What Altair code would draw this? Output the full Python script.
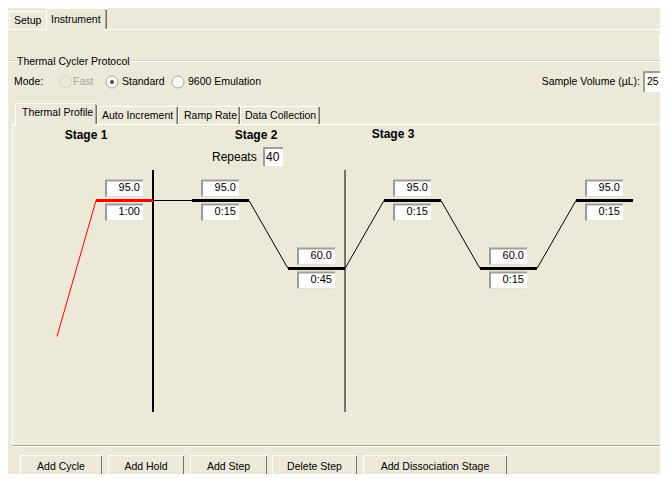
import altair as alt
import pandas as pd

# ---------------- data ----------------
stage_names = ["Stage 1", "Stage 2", "Stage 3"]
step_stage = [1, 2, 2, 3, 3, 3]
step_temp = [95.0, 95.0, 60.0, 95.0, 60.0, 95.0]
step_time = ["1:00", "0:15", "0:45", "0:15", "0:15", "0:15"]
start_temp = 25.0
selected_stage = 1
repeats = "40"
sample_volume = "25"
top_tabs = ["Setup", "Instrument"]
profile_tabs = ["Thermal Profile", "Auto Increment", "Ramp Rate", "Data Collection"]
modes = ["Fast", "Standard", "9600 Emulation"]
buttons = ["Add Cycle", "Add Hold", "Add Step", "Delete Step", "Add Dissociation Stage"]
group_title = "Thermal Cycler Protocol"
mode_label = "Mode:"
volume_label = "Sample Volume (\u00b5L):"
repeats_label = "Repeats"

# --------------- layout ---------------
W, H = 652, 466
OFF = 8
FONT = "Liberation Sans"
FS = 10.5
BG = "#ECE9D8"
SHADE = "#ACA899"
DARK = "#716F64"
SLOT_PX = 96.0
SLOT0_PX = 57 - OFF
DEG_PX = 68 / 35
T95_PX = 200.5 - OFF
RAMP = 39 / 96

xs = alt.Scale(domain=[-SLOT0_PX / SLOT_PX, (W - SLOT0_PX) / SLOT_PX], nice=False, zero=False)
ys = alt.Scale(domain=[95 - (H - T95_PX) / DEG_PX, 95 + T95_PX / DEG_PX], nice=False, zero=False)

n = len(step_temp)
steps = pd.DataFrame({
    "slot": list(range(n)),
    "stage": step_stage,
    "temp": step_temp,
    "prev": [start_temp] + step_temp[:-1],
    "time": step_time,
})
steps["hold"] = steps["slot"] + RAMP
steps["end"] = steps["slot"] + 1

bounds = [i for i in range(1, n) if step_stage[i] != step_stage[i - 1]]
divs = pd.DataFrame({"slot": bounds, "left_stage": [step_stage[i - 1] for i in bounds]})


def XQ(f):
    return alt.X(f, type="quantitative", scale=xs, axis=None)


def YQ(f):
    return alt.Y(f, type="quantitative", scale=ys, axis=None)


sel = f"datum.stage == {selected_stage}"
col = alt.condition(sel, alt.value("#FF0000"), alt.value("#000000"))
base = alt.Chart(steps)

layers = []


# ---------- chrome helpers (pixel layout) ----------
def R(x0, y0, x1, y1, c):
    return dict(x=max(x0 - OFF, 0), x2=min(x1 - OFF, W), y=max(y0 - OFF, 0), y2=min(y1 - OFF, H), c=c)


def rect_layer(rows):
    df = pd.DataFrame(rows)
    df = df[(df.x < df.x2) & (df.y < df.y2)]
    return alt.Chart(df).mark_rect().encode(
        x=alt.X("x:Q", scale=None, axis=None), x2="x2:Q",
        y=alt.Y("y:Q", scale=None, axis=None), y2="y2:Q",
        color=alt.Color("c:N", scale=None, legend=None),
    )


def text_layer(rows, align="left", size=FS, weight="normal", color="#000000"):
    df = pd.DataFrame([dict(x=x - OFF, y=y - OFF, t=t) for x, y, t in rows])
    return alt.Chart(df).mark_text(
        align=align, baseline="middle", font=FONT, fontSize=size, fontWeight=weight, color=color
    ).encode(
        x=alt.X("x:Q", scale=None, axis=None),
        y=alt.Y("y:Q", scale=None, axis=None),
        text="t:N",
    )


def sunken(x0, y0, x1, y1):
    return [R(x0, y0, x1, y1, "#9C9C9C"), R(x0 + 2, y0 + 2, x1, y1, "#FFFFFF")]


def raised(x0, y0, x1, y1):
    return [R(x0, y0, x1, y1, "#FFFFFF"), R(x0 + 1, y0 + 1, x1, y1, DARK),
            R(x0 + 1, y0 + 1, x1 - 1, y1 - 1, BG)]


rows = []
# top tabs
rows += [R(9, 11, 47, 30, "#FFFFFF"), R(10, 12, 47, 30, BG)]
rows += [R(46, 8, 107, 31, "#FFFFFF"), R(47, 9, 105, 31, BG), R(105, 9, 106, 29, SHADE), R(106, 10, 107, 29, DARK)]
rows += [R(0, 29, 46, 30, "#FFFFFF"), R(107, 29, 668, 30, "#FFFFFF")]
# group box
rows += [R(5, 60, 15, 61, "#D0D0BF"), R(130, 60, 668, 61, "#D0D0BF"),
         R(5, 61, 15, 62, "#FFFFFF"), R(130, 61, 668, 62, "#FFFFFF")]
# small top-right button
rows += [R(659, 35, 668, 58, "#FFFFFF"), R(660, 36, 668, 58, DARK), R(660, 36, 668, 57, BG)]
# sample volume box
rows += sunken(643, 71, 668, 92)
# profile tabs
rows += [R(15, 103, 97, 126, "#FFFFFF"), R(16, 104, 95, 126, BG), R(95, 104, 96, 124, SHADE), R(96, 105, 97, 124, DARK)]
for a, b in [(97, 178), (178, 240), (240, 320)]:
    rows += [R(a, 106, b - 1, 107, "#FFFFFF"), R(a, 106, a + 1, 124, "#FFFFFF"),
             R(b - 2, 107, b - 1, 124, SHADE), R(b - 1, 107, b, 124, DARK)]
rows += [R(12, 124, 15, 125, "#FFFFFF"), R(97, 124, 668, 125, "#FFFFFF"),
         R(12, 124, 13, 446, "#FFFFFF"), R(12, 445, 668, 446, SHADE), R(12, 446, 668, 447, "#FFFFFF")]
# repeats box
rows += sunken(263, 147, 283, 166)
# buttons
BTN_TOP = 455
btn_x = [(20, 102), (108, 184), (190, 267), (272, 357), (363, 507)]
for a, b in btn_x:
    rows += raised(a, BTN_TOP, b, 490)
layers.append(rect_layer(rows))

# radios
radio_df = pd.DataFrame({"x": [66 - OFF, 112 - OFF, 178 - OFF], "y": [82 - OFF] * 3,
                         "f": [BG, "#FFFFFF", "#FFFFFF"], "s": ["#CAC8BB", "#8A8A8A", "#8A8A8A"]})
layers.append(alt.Chart(radio_df).mark_point(shape="circle", filled=True, size=144, strokeWidth=1).encode(
    x=alt.X("x:Q", scale=None, axis=None), y=alt.Y("y:Q", scale=None, axis=None),
    fill=alt.Fill("f:N", scale=None, legend=None), stroke=alt.Stroke("s:N", scale=None, legend=None)))
layers.append(alt.Chart(radio_df.iloc[[1]]).mark_point(shape="circle", filled=True, size=16, color="#000000").encode(
    x=alt.X("x:Q", scale=None, axis=None), y=alt.Y("y:Q", scale=None, axis=None)))

# chrome texts
layers.append(text_layer([
    (14, 21, top_tabs[0]), (51, 20, top_tabs[1]),
    (17, 62, group_title), (14, 82, mode_label),
    (122, 82, modes[1]), (188, 82, modes[2]),
    (22, 113, profile_tabs[0]), (102, 116, profile_tabs[1]),
    (184, 116, profile_tabs[2]), (245, 116, profile_tabs[3]),
    (647, 82, sample_volume),
]))
layers.append(text_layer([(73, 82, modes[0])], color=SHADE))
layers.append(text_layer([(640, 82, volume_label)], align="right"))
layers.append(text_layer([(212, 157, repeats_label), (266, 157, repeats)], size=12))
layers.append(text_layer([((a + b) / 2, BTN_TOP + 11.5, t) for (a, b), t in zip(btn_x, buttons)], align="center"))
layers.append(text_layer([(86, 135, stage_names[0]), (256, 135, stage_names[1]), (393, 134, stage_names[2])],
                         align="center", size=12, weight="bold"))

# ---------- the thermal profile (data through scales) ----------
layers.append(alt.Chart(divs).mark_rule(color="#000000").encode(
    x=XQ("slot"), y=alt.value(170 - OFF), y2=alt.value(412 - OFF),
    strokeWidth=alt.condition(f"datum.left_stage == {selected_stage}", alt.value(2), alt.value(1))))
layers.append(base.mark_rule(strokeWidth=1).encode(x=XQ("slot"), x2="hold:Q", y=YQ("prev"), y2="temp:Q", color=col))
layers.append(base.mark_rule(strokeWidth=3).encode(x=XQ("hold"), x2="end:Q", y=YQ("temp"), y2="temp:Q", color=col))

for y0, y1, txt, dy in [(-21, -4, alt.Text("temp:Q", format=".1f"), -12.5), (3, 20, alt.Text("time:N"), 11.5)]:
    layers.append(base.mark_rect(color="#9C9C9C", xOffset=48, x2Offset=86, yOffset=y0, y2Offset=y1).encode(
        x=XQ("slot"), x2="slot:Q", y=YQ("temp"), y2="temp:Q"))
    layers.append(base.mark_rect(color="#FFFFFF", xOffset=50, x2Offset=86, yOffset=y0 + 2, y2Offset=y1).encode(
        x=XQ("slot"), x2="slot:Q", y=YQ("temp"), y2="temp:Q"))
    layers.append(base.mark_text(align="right", baseline="middle", dx=83, dy=dy, font=FONT, fontSize=11,
                                 color="#000000").encode(x=XQ("slot"), y=YQ("temp"), text=txt))

chart = alt.layer(*layers).resolve_scale(
    x="independent", y="independent", color="independent", fill="independent", stroke="independent"
).properties(
    width=W, height=H, padding=0, background=BG,
    autosize=alt.AutoSizeParams(type="none"),
).configure_view(stroke=None)

chart.save("out.html", embed_options={"renderer": "svg", "actions": False})
